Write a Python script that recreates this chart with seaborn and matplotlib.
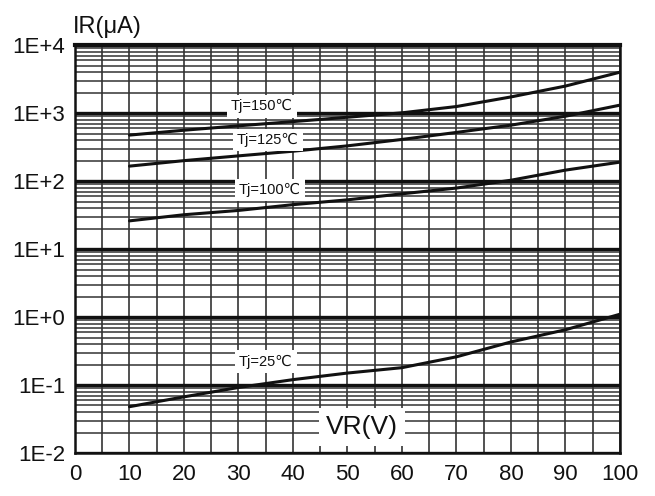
import matplotlib
matplotlib.use("Agg")
import matplotlib.pyplot as plt
import matplotlib.ticker as mticker
import numpy as np
import pandas as pd
import seaborn as sns

# reverse voltage (V) and leakage current (uA) per junction temperature
vr = [10, 20, 30, 40, 50, 60, 70, 80, 90, 100]
ir_150 = [475, 560, 650, 750, 870, 1010, 1250, 1730, 2500, 4000]
ir_125 = [166, 200, 235, 275, 330, 410, 520, 665, 900, 1310]
ir_100 = [26, 32, 37, 45, 53, 65, 79, 103, 145, 190]
ir_25 = [0.048, 0.067, 0.092, 0.12, 0.15, 0.18, 0.26, 0.43, 0.65, 1.1]

curve_labels = ["Tj=150℃", "Tj=125℃", "Tj=100℃", "Tj=25℃"]
label_x = [34.3, 35.4, 35.8, 35.0]
label_y = [1260, 400, 74, 0.22]

y_ticks = [1e-2, 1e-1, 1e0, 1e1, 1e2, 1e3, 1e4]
y_ticklabels = ["1E-2", "1E-1", "1E+0", "1E+1", "1E+2", "1E+3", "1E+4"]
x_ticks = [0, 10, 20, 30, 40, 50, 60, 70, 80, 90, 100]

df = pd.DataFrame({
    "VR": vr * 4,
    "IR": ir_150 + ir_125 + ir_100 + ir_25,
    "curve": sum([[c] * len(vr) for c in curve_labels], []),
})

sns.set_style("white")
plt.rcParams["font.family"] = ["Liberation Sans", "DejaVu Sans"]

fig = plt.figure(figsize=(6.55, 4.96), dpi=100)
ax = fig.add_axes([0.1145, 0.0867, 0.832, 0.8223])

ax.set_yscale("log")
ax.set_xlim(0, 100)
ax.set_ylim(1e-2, 1e4)

# grid
ax.xaxis.set_major_locator(mticker.FixedLocator(x_ticks))
ax.xaxis.set_minor_locator(mticker.MultipleLocator(5))
ax.yaxis.set_major_locator(mticker.FixedLocator(y_ticks))
ax.yaxis.set_minor_locator(mticker.LogLocator(base=10, subs=np.arange(2, 10)))
ax.yaxis.set_minor_formatter(mticker.NullFormatter())
ax.grid(which="major", axis="y", color="#111111", lw=2.4)
ax.grid(which="minor", axis="y", color="#333333", lw=1.1)
ax.grid(which="both", axis="x", color="#333333", lw=1.2)
ax.set_axisbelow(True)

sns.lineplot(data=df, x="VR", y="IR", units="curve", estimator=None,
             color="#111111", lw=2.2, ax=ax, legend=False)

for lab, lx, ly in zip(curve_labels, label_x, label_y):
    ax.text(lx, ly, lab, fontsize=10.5, ha="center", va="center", color="#111111",
            bbox=dict(fc="white", ec="none", pad=3), zorder=5)

ax.text(52.7, 0.024, "VR(V)", fontsize=19, ha="center", va="center", color="#111111",
        bbox=dict(fc="white", ec="none", pad=5), zorder=5)

ax.set_yticklabels(y_ticklabels)
ax.tick_params(axis="both", which="both", length=0, labelsize=16, colors="#111111")
ax.tick_params(axis="x", pad=8)
ax.tick_params(axis="y", pad=7)
ax.set_xlabel("")
ax.set_ylabel("")

for s in ax.spines.values():
    s.set_visible(True)
    s.set_color("#111111")
    s.set_linewidth(1.8)
ax.spines["top"].set_linewidth(3)

fig.text(0.111, 0.933, "IR(μA)", fontsize=17, ha="left", va="baseline", color="#111111")

fig.savefig("out.png", dpi=100, facecolor="white")
